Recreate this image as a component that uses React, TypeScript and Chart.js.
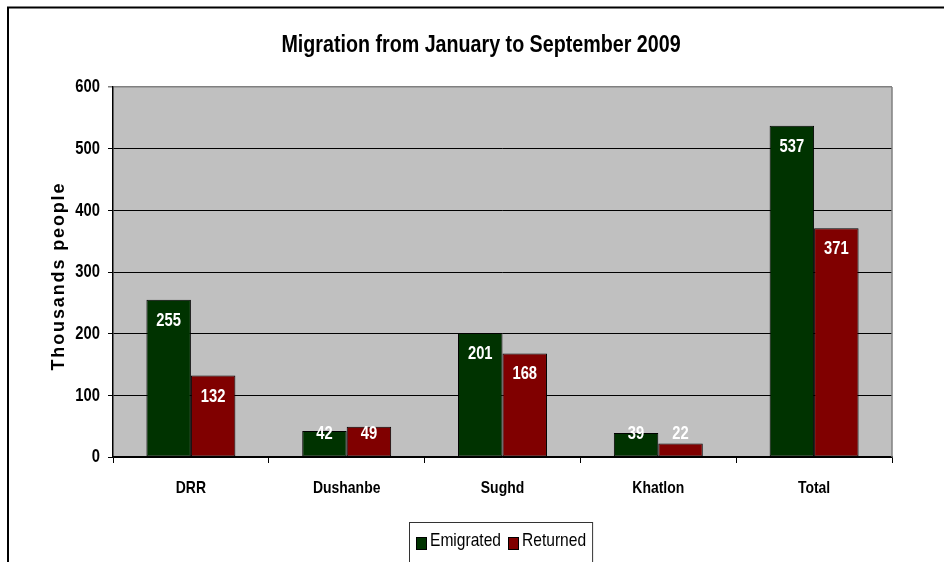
import React, { useEffect, useRef } from "react";
import { Chart, registerables } from "chart.js";

Chart.register(...registerables);

const categories = ["DRR", "Dushanbe", "Sughd", "Khatlon", "Total"];
const emigrated = [255, 42, 201, 39, 537];
const returned = [132, 49, 168, 22, 371];
const yTicks = [0, 100, 200, 300, 400, 500, 600];

const chartTitle = "Migration from January to September 2009";
const yAxisTitle = "Thousands people";

const SANS = '"Liberation Sans", Arial, sans-serif';
// horizontal squeeze giving the narrow typeface look
const NARROW_X = 0.82;

const GREEN = "#003300";
const RED = "#800000";
const PLOT_BG = "#C0C0C0";

function narrowText(
  ctx: CanvasRenderingContext2D,
  text: string,
  x: number,
  y: number,
  font: string,
  align: "left" | "center" | "right",
  baseline: CanvasTextBaseline
) {
  ctx.save();
  ctx.font = font;
  ctx.textBaseline = baseline;
  ctx.textAlign = align;
  ctx.translate(x, y);
  ctx.scale(NARROW_X, 1);
  ctx.fillText(text, 0, 0);
  ctx.restore();
}

function narrowWidth(ctx: CanvasRenderingContext2D, text: string, font: string) {
  ctx.save();
  ctx.font = font;
  const w = ctx.measureText(text).width * NARROW_X;
  ctx.restore();
  return w;
}

const decorations = {
  id: "decorations",
  beforeDraw(chart: any) {
    const { ctx, chartArea } = chart;
    ctx.save();
    ctx.fillStyle = "#ffffff";
    ctx.fillRect(0, 0, chart.width, chart.height);
    ctx.fillStyle = PLOT_BG;
    ctx.fillRect(chartArea.left, chartArea.top, chartArea.right - chartArea.left, chartArea.bottom - chartArea.top);
    // outer frame
    ctx.strokeStyle = "#000";
    ctx.lineWidth = 2;
    ctx.beginPath();
    ctx.moveTo(8, chart.height + 2);
    ctx.lineTo(8, 7.5);
    ctx.lineTo(chart.width + 2, 7.5);
    ctx.stroke();
    ctx.restore();
  },
  afterDatasetsDraw(chart: any) {
    const { ctx } = chart;
    ctx.save();
    ctx.fillStyle = "#fff";
    const font = `bold 18px ${SANS}`;
    chart.data.datasets.forEach((ds: any, di: number) => {
      const meta = chart.getDatasetMeta(di);
      meta.data.forEach((bar: any, i: number) => {
        const y = Math.min(bar.y + 21, bar.base - 22);
        narrowText(ctx, String(ds.data[i]), bar.x, y, font, "center", "middle");
      });
    });
    ctx.restore();
  },
  afterDraw(chart: any) {
    const { ctx, chartArea, scales } = chart;
    ctx.save();
    // plot area right edge
    ctx.strokeStyle = "#808080";
    ctx.lineWidth = 1.5;
    ctx.beginPath();
    ctx.moveTo(chartArea.right, chartArea.top);
    ctx.lineTo(chartArea.right, chartArea.bottom);
    ctx.stroke();

    ctx.fillStyle = "#000";
    // axis tick labels
    const tickFont = `bold 18px ${SANS}`;
    scales.y.ticks.forEach((t: any, i: number) => {
      narrowText(ctx, String(t.value), scales.y.right - 13, scales.y.getPixelForTick(i) + 0.5, tickFont, "right", "middle");
    });
    scales.x.ticks.forEach((t: any, i: number) => {
      narrowText(ctx, categories[t.value] ?? String(t.label), scales.x.getPixelForTick(i), 488, `bold 17px ${SANS}`, "center", "middle");
    });

    // title
    narrowText(ctx, chartTitle, 481, 52, `bold 24px ${SANS}`, "center", "alphabetic");

    // y axis title
    ctx.save();
    ctx.translate(64, 277);
    ctx.rotate(-Math.PI / 2);
    ctx.font = `bold 18px ${SANS}`;
    ctx.textBaseline = "alphabetic";
    const plain = ctx.measureText(yAxisTitle).width;
    const spacing = Math.max(0, (187 - plain) / (yAxisTitle.length - 1));
    (ctx as any).letterSpacing = `${spacing}px`;
    const w = ctx.measureText(yAxisTitle).width;
    ctx.textAlign = "left";
    ctx.fillText(yAxisTitle, -w / 2 + spacing / 2, 0);
    ctx.restore();

    // legend
    const boxLeft = 409;
    const boxTop = 522;
    const legendFont = `19px ${SANS}`;
    let x = boxLeft + 7;
    chart.data.datasets.forEach((ds: any, i: number) => {
      ctx.fillStyle = ds.backgroundColor;
      ctx.fillRect(x, 537, 10, 12);
      ctx.strokeStyle = "#000";
      ctx.lineWidth = 1;
      ctx.strokeRect(x + 0.5, 537.5, 10, 12);
      ctx.fillStyle = "#000";
      narrowText(ctx, ds.label, x + 14, 546, legendFont, "left", "alphabetic");
      x += 14 + narrowWidth(ctx, ds.label, legendFont) + (i === 0 ? 7 : 6);
    });
    ctx.strokeStyle = "#333";
    ctx.lineWidth = 1;
    ctx.strokeRect(boxLeft + 0.5, boxTop + 0.5, x - boxLeft, 60);
    ctx.restore();
  },
};

export default function App() {
  const canvasRef = useRef<HTMLCanvasElement | null>(null);

  useEffect(() => {
    document.body.style.margin = "0";
    const canvas = canvasRef.current;
    if (!canvas) return;
    const chart = new Chart(canvas, {
      type: "bar",
      data: {
        labels: categories,
        datasets: [
          {
            label: "Emigrated",
            data: emigrated,
            backgroundColor: GREEN,
            borderColor: "#000",
            borderWidth: 1,
            borderSkipped: false,
          },
          {
            label: "Returned",
            data: returned,
            backgroundColor: RED,
            borderColor: "#000",
            borderWidth: 1,
            borderSkipped: false,
          },
        ],
      },
      options: {
        responsive: false,
        animation: false,
        devicePixelRatio: 1,
        layout: { padding: { top: 87, right: 52, bottom: 0, left: 0 } },
        datasets: {
          bar: { categoryPercentage: 0.571, barPercentage: 1 },
        },
        plugins: {
          legend: { display: false },
          title: { display: false },
          tooltip: { enabled: false },
        },
        scales: {
          x: {
            grid: {
              offset: true,
              drawOnChartArea: false,
              drawTicks: true,
              tickLength: 6,
              color: "#000",
            },
            border: { display: true, color: "#000", width: 1.5 },
            ticks: { display: false },
            afterFit(scale: any) {
              scale.height = 105;
            },
          },
          y: {
            min: 0,
            max: 600,
            afterBuildTicks(scale: any) {
              scale.ticks = yTicks.map((v) => ({ value: v }));
            },
            grid: {
              color: (c: any) => (c.tick && c.tick.value === 600 ? "#808080" : "#000"),
              lineWidth: (c: any) => (c.tick && c.tick.value === 600 ? 1.5 : 1),
              drawTicks: true,
              tickLength: 5,
            },
            border: { display: true, color: "#000", width: 1.5 },
            ticks: { display: false },
            afterFit(scale: any) {
              scale.width = 113;
            },
          },
        },
      },
      plugins: [decorations],
    });
    return () => chart.destroy();
  }, []);

  return (
    <div style={{ position: "fixed", left: 0, top: 0, width: 944, height: 562 }}>
      <canvas ref={canvasRef} width={944} height={562} style={{ width: 944, height: 562, display: "block" }} />
    </div>
  );
}
